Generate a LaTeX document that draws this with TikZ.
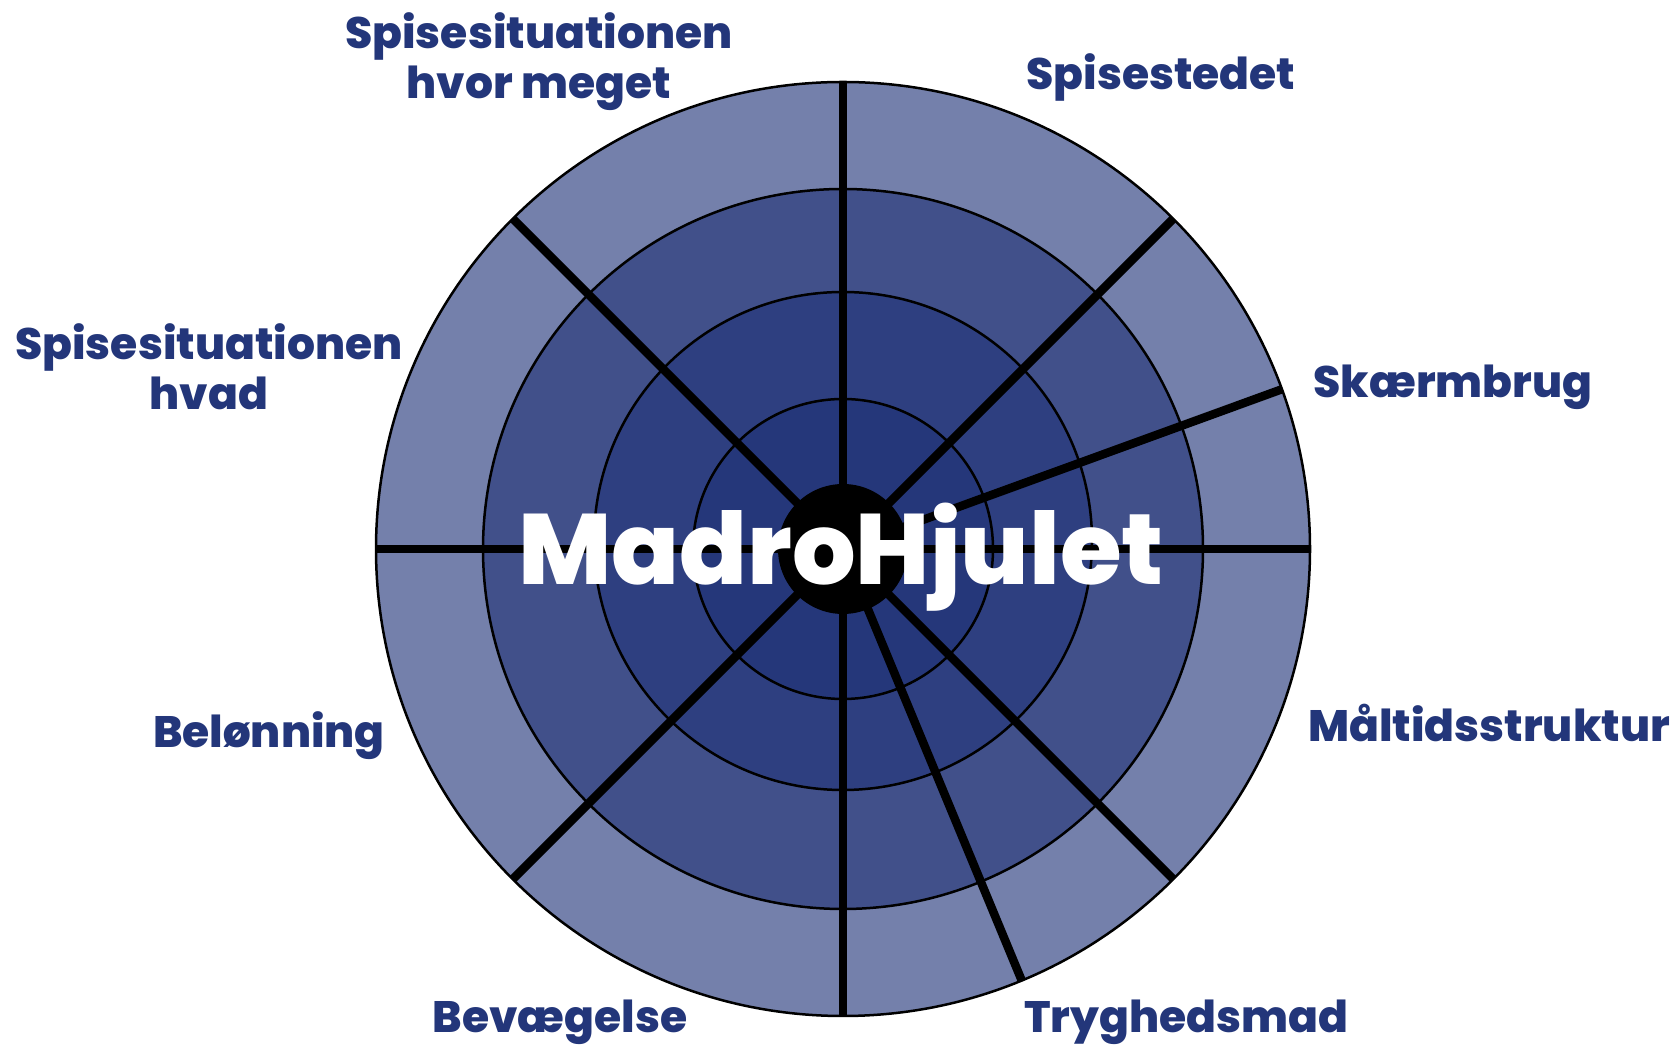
\documentclass[tikz,border=0pt]{standalone}
\usepackage{fontspec}
\setmainfont{Poppins}[BoldFont={Poppins ExtraBold}]
\usetikzlibrary{calc}
\definecolor{ringA}{RGB}{116,128,171}
\definecolor{ringB}{RGB}{65,80,138}
\definecolor{ringC}{RGB}{46,63,128}
\definecolor{ringD}{RGB}{37,55,122}
\definecolor{madroblue}{RGB}{35,54,122}
\tikzset{
  ringline/.style={draw=black, line width=2.5pt},
  spoke/.style={draw=black, line width=8.5pt},
  lbl/.style={inner sep=0pt, text=madroblue, font=\fontsize{44}{50}\selectfont\bfseries, align=center, anchor=base},
  title/.style={inner sep=0pt, text=white, font=\fontsize{100}{110}\selectfont\bfseries, anchor=base}
}
\begin{document}
\begin{tikzpicture}[x=1pt,y=1pt]
\useasboundingbox (0,0) rectangle (1675,1046);
\coordinate (c) at (843,497);
\coordinate (c3) at (843,505);
\fill[ringA] (c) circle (467);
\fill[ringB] (c) circle (360);
\fill[ringC] (c3) circle (249);
\fill[ringD] (c) circle (150);
\draw[ringline] (c) circle (467);
\draw[ringline] (c) circle (360);
\draw[ringline] (c3) circle (249);
\draw[ringline] (c) circle (150);
\foreach \a/\n in {90/s1,45/s2,20/s3,0/s4,-45/s5,-67.5/s6,-90/s7,-135/s8,180/s9,135/s10}{
  \coordinate (\n) at ($(c)+(\a:467)$);
  \draw[spoke] (c) -- (\n);
}
\fill[black] (c) circle (65);
\node[title] (t) at (841,461) {MadroHjulet};
\node[lbl] (l1) at (539,947) {Spisesituationen\\hvor meget};
\node[lbl] (l2) at (1161,956) {Spisestedet};
\node[lbl] (l3) at (1453,648) {Skærmbrug};
\node[lbl] (l4) at (209,636) {Spisesituationen\\hvad};
\node[lbl] (l5) at (1489,304) {Måltidsstruktur};
\node[lbl] (l6) at (269,298) {Belønning};
\node[lbl] (l7) at (560,13) {Bevægelse};
\node[lbl] (l8) at (1186,13) {Tryghedsmad};
\end{tikzpicture}
\end{document}
